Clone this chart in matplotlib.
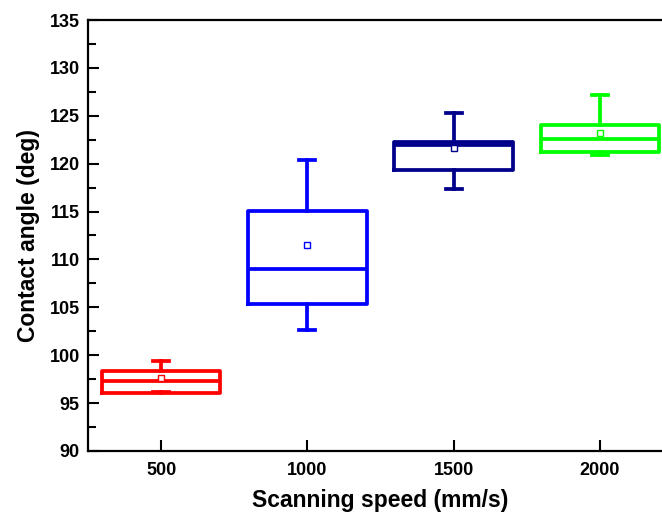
import numpy as np
import matplotlib
matplotlib.use('Agg')
import matplotlib.pyplot as plt

plt.rcParams['font.family'] = ['Liberation Sans', 'DejaVu Sans']

# data
speeds = [500, 1000, 1500, 2000]
whisker_low = [96.2, 102.6, 117.4, 120.9]
q1 = [96.1, 105.3, 119.3, 121.2]
medians = [97.3, 109.0, 121.9, 122.6]
q3 = [98.3, 115.1, 122.3, 124.0]
whisker_high = [99.4, 120.4, 125.3, 127.2]
means = [97.6, 111.5, 121.6, 123.2]
colors = ['#ff0000', '#0000ff', '#00008b', '#00ff00']

fig = plt.figure(figsize=(6.62, 5.17), dpi=100)
ax = fig.add_axes([0.1329, 0.1277, 0.8837, 0.8336])

for i in range(len(speeds)):
    stats = [{
        'whislo': whisker_low[i], 'q1': q1[i], 'med': medians[i],
        'q3': q3[i], 'whishi': whisker_high[i], 'mean': means[i],
        'fliers': [],
    }]
    c = colors[i]
    ax.bxp(stats, positions=[speeds[i]], widths=405, showmeans=True,
           showfliers=False, capwidths=55, manage_ticks=False,
           boxprops=dict(color=c, linewidth=2.7),
           medianprops=dict(color=c, linewidth=2.7),
           whiskerprops=dict(color=c, linewidth=2.7),
           capprops=dict(color=c, linewidth=2.7),
           meanprops=dict(marker='s', markersize=4, markerfacecolor='white',
                          markeredgecolor=c, markeredgewidth=1.0))

ax.set_xlim(250, 2250)
ax.set_ylim(90, 135)
ax.set_xticks(speeds)
ax.set_yticks(np.arange(90, 136, 5))
ax.set_yticks(np.arange(92.5, 135, 5), minor=True)

ax.tick_params(axis='both', which='major', direction='in', length=8, width=1.5,
               labelsize=13)
ax.tick_params(axis='y', which='minor', direction='in', length=6, width=1.5)
for lab in ax.get_xticklabels() + ax.get_yticklabels():
    lab.set_fontweight('bold')
ax.tick_params(axis='x', pad=8)
ax.tick_params(axis='y', pad=6)

for sp in ax.spines.values():
    sp.set_linewidth(1.6)

ax.set_xlabel('Scanning speed (mm/s)', fontsize=16.5, fontweight='bold', labelpad=7)
ax.set_ylabel('Contact angle (deg)', fontsize=16.5, fontweight='bold', labelpad=7)

fig.savefig('out.png', dpi=100)
